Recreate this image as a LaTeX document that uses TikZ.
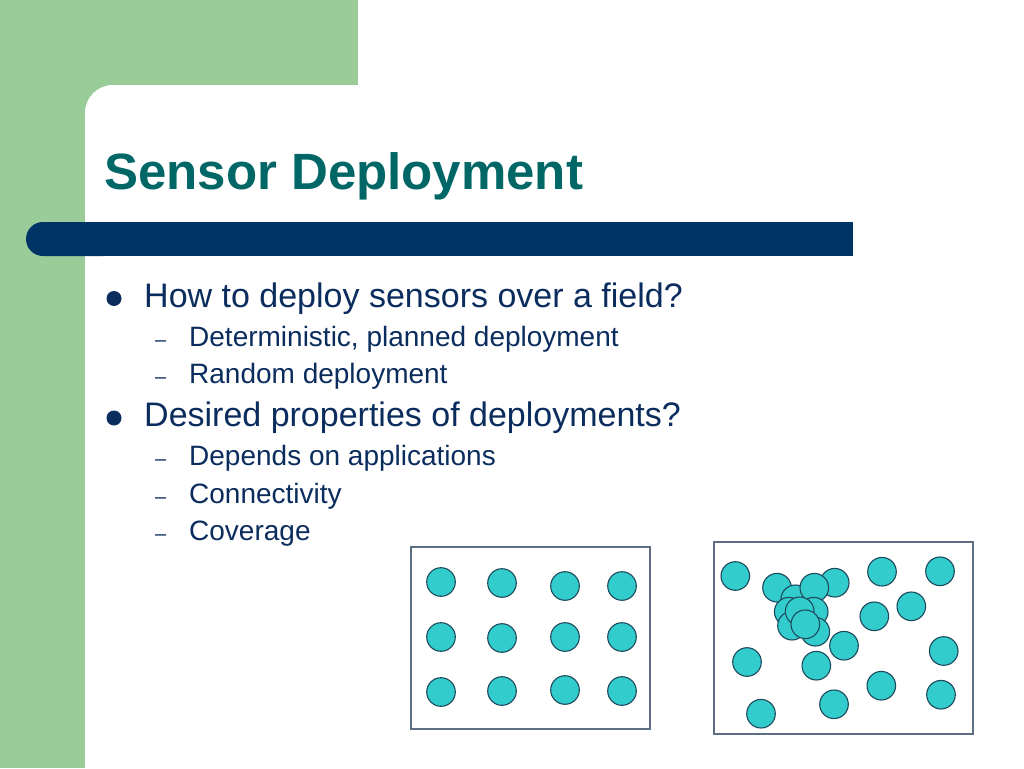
\documentclass[tikz,border=0pt]{standalone}
\usepackage{fontspec}
\setmainfont{Liberation Sans}
\definecolor{sage}{HTML}{99CC99}
\definecolor{barblue}{HTML}{003366}
\definecolor{titleteal}{HTML}{006666}
\definecolor{textblue}{HTML}{0B2D5E}
\definecolor{sensorfill}{HTML}{33CCCC}
\definecolor{sensorline}{HTML}{1C4A5C}
\definecolor{boxline}{HTML}{5E6E82}

\begin{document}
\begin{tikzpicture}[x=1pt,y=-1pt,
        sensor/.style={circle,draw=sensorline,fill=sensorfill,line width=1.1pt,minimum size=28.6pt,inner sep=0pt},
        field/.style={draw=boxline,line width=1.3pt},
        slidetitle/.style={anchor=base west,inner sep=0pt,text=titleteal,font=\bfseries\fontsize{51}{60}\selectfont},
        item/.style={anchor=base west,inner sep=0pt,text=textblue,font=\fontsize{34}{40}\selectfont},
        subitem/.style={anchor=base west,inner sep=0pt,text=textblue,font=\fontsize{28}{34}\selectfont},
        bulletdot/.style={circle,fill=textblue,minimum size=15pt,inner sep=0pt},
        dashmark/.style={anchor=base west,inner sep=0pt,text=textblue,font=\fontsize{20}{24}\selectfont}]

    % slide background
    \clip (0,0) rectangle (1024,768);
    \fill[white] (0,0) rectangle (1024,768);
    \fill[sage] (0,0) rectangle (358,120);
    \fill[sage] (0,0) rectangle (120,768);
    \fill[white,rounded corners=28pt] (85,85) rectangle (1100,900);
    \fill[barblue,rounded corners=17pt] (26,222) rectangle (120,256);
    \fill[barblue] (60,222) rectangle (853,256);

    % title and bullets
    \node[slidetitle] (t) at (104,189) {Sensor Deployment};

    \node[bulletdot] (d1) at (114,298.5) {};
    \node[item] (i1) at (144,307) {How to deploy sensors over a field?};
    \node[dashmark] (m1) at (155,346) {–};
    \node[subitem] (s1) at (189,346) {Deterministic, planned deployment};
    \node[dashmark] (m2) at (155,383.5) {–};
    \node[subitem] (s2) at (189,383.5) {Random deployment};

    \node[bulletdot] (d2) at (114,418) {};
    \node[item] (i2) at (144,426.5) {Desired properties of deployments?};
    \node[dashmark] (m3) at (155,465) {–};
    \node[subitem] (s3) at (189,465) {Depends on applications};
    \node[dashmark] (m4) at (155,503) {–};
    \node[subitem] (s4) at (189,503) {Connectivity};
    \node[dashmark] (m5) at (155,540.5) {–};
    \node[subitem] (s5) at (189,540.5) {Coverage};

    % planned field
    \draw[field] (411,547) rectangle (650,729);
    \node[sensor] (p11) at (441,582) {};
    \node[sensor] (p12) at (502,583) {};
    \node[sensor] (p13) at (565,586) {};
    \node[sensor] (p14) at (622,586) {};
    \node[sensor] (p21) at (441,637) {};
    \node[sensor] (p22) at (502,638) {};
    \node[sensor] (p23) at (565,637) {};
    \node[sensor] (p24) at (622,637) {};
    \node[sensor] (p31) at (441,692) {};
    \node[sensor] (p32) at (502,691) {};
    \node[sensor] (p33) at (565,690) {};
    \node[sensor] (p34) at (622,691) {};

    % random field
    \draw[field] (714,542) rectangle (973,734);
    \node[sensor] (r1) at (735.3,576) {};
    \node[sensor] (r2) at (777,587.7) {};
    \node[sensor] (r3) at (834.7,582.7) {};
    \node[sensor] (r4) at (882,571.7) {};
    \node[sensor] (r5) at (940,571.3) {};
    \node[sensor] (r6) at (911.3,606.3) {};
    \node[sensor] (r7) at (874.3,616.3) {};
    \node[sensor] (r8) at (943.7,651) {};
    \node[sensor] (r9) at (844,645.7) {};
    \node[sensor] (r10) at (747,662) {};
    \node[sensor] (r11) at (816.3,665.7) {};
    \node[sensor] (r12) at (881.3,685.7) {};
    \node[sensor] (r13) at (941,694.7) {};
    \node[sensor] (r14) at (834,704.3) {};
    \node[sensor] (r15) at (761,713.7) {};
    \node[sensor] (c1) at (795.3,599.3) {};
    \node[sensor] (c2) at (814.3,587.7) {};
    \node[sensor] (c3) at (788.7,611.7) {};
    \node[sensor] (c4) at (813.7,611.7) {};
    \node[sensor] (c5) at (815.3,631.7) {};
    \node[sensor] (c6) at (792,625.7) {};
    \node[sensor] (c7) at (799.7,611.3) {};
    \node[sensor] (c8) at (805.3,624.3) {};
\end{tikzpicture}
\end{document}
